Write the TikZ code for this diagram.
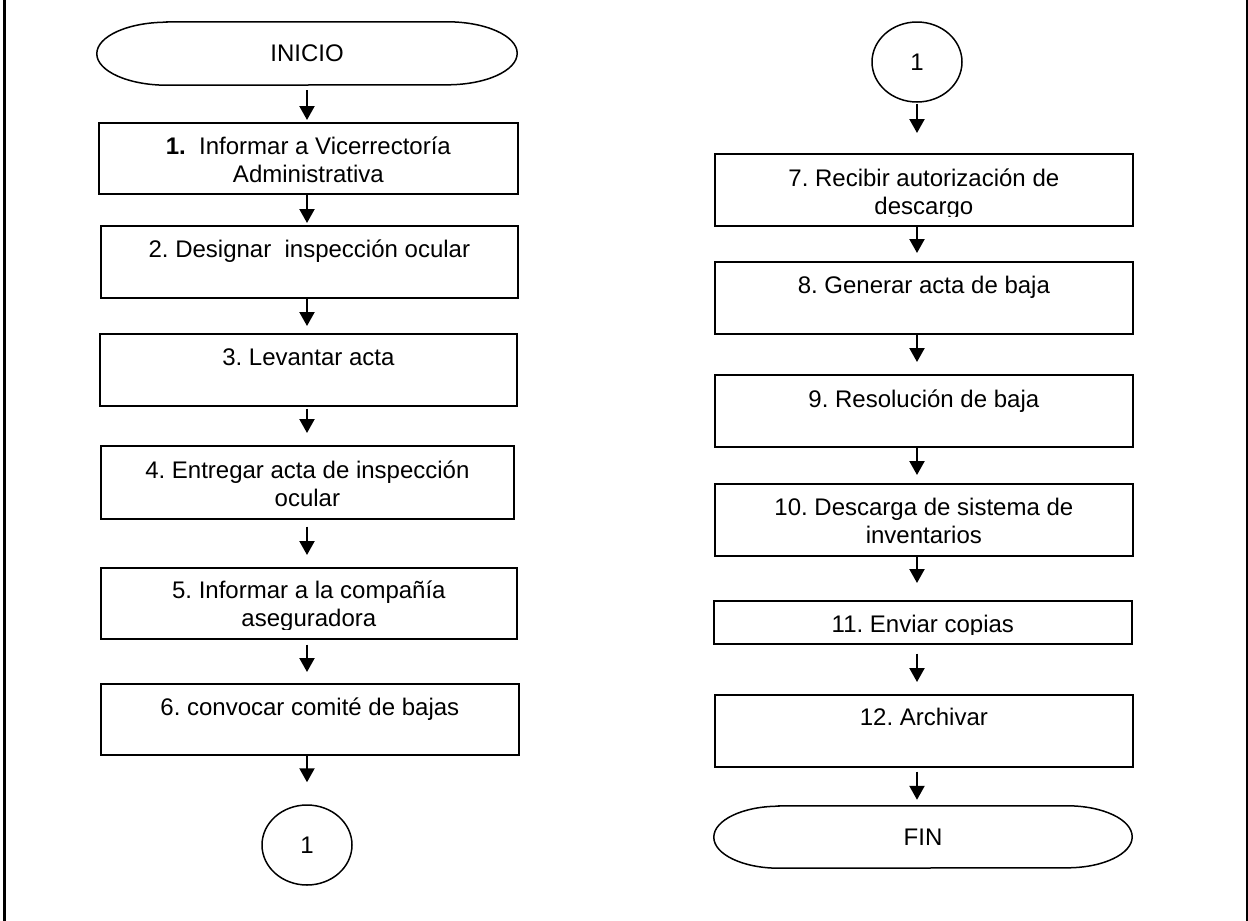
\documentclass[tikz,border=0pt]{standalone}
\usepackage{fontspec}
\setmainfont{Liberation Sans}
\usetikzlibrary{shapes.geometric,arrows.meta,calc}

\begin{document}
\frenchspacing
\begin{tikzpicture}[x=1pt,y=-1pt,
  txt/.style={font=\fontsize{24}{28}\selectfont},
  stepbox/.style={draw, line width=1.7pt, inner sep=0pt, anchor=north west},
  steptext/.style={txt, align=center, anchor=base, inner sep=0pt},
  term/.style={txt, inner sep=0pt, minimum width=420, minimum height=63},
  outline/.style={line width=1.5pt},
  conn/.style={txt, draw, ellipse, line width=1.5pt, minimum width=90, minimum height=80, inner sep=0pt},
  flow/.style={line width=2.2pt, -{Triangle[width=15pt,length=14pt]}},
  frame/.style={line width=2.6pt}]

\useasboundingbox (0,0) rectangle (1248,921);

% side rules of the sheet
\draw[frame] (4.7,0) -- (4.7,921);
\draw[frame] (1247,0) -- (1247,921);

% ---------- left column ----------
\node[term] (ini) at (307,53.5) {INICIO};
\draw[outline] ([xshift=70pt]ini.north west) -- ([xshift=-70pt]ini.north east)
  arc[start angle=90, end angle=-90, x radius=70pt, y radius=31.5pt]
  -- ([xshift=70pt]ini.south west)
  arc[start angle=270, end angle=90, x radius=70pt, y radius=31.5pt] -- cycle;

\node[stepbox, minimum width=419, minimum height=71] (b1) at (98,122) {};
\node[stepbox, minimum width=417, minimum height=72] (b2) at (100,225) {};
\node[stepbox, minimum width=417, minimum height=72] (b3) at (99,333) {};
\node[stepbox, minimum width=413, minimum height=73] (b4) at (100,445) {};
\node[stepbox, minimum width=416, minimum height=71] (b5) at (100,567) {};
\node[stepbox, minimum width=418, minimum height=71] (b6) at (100,683) {};
\node[conn] (c1) at (307,845) {1};

% ---------- right column ----------
\node[conn] (c2) at (917,62) {1};
\node[stepbox, minimum width=418, minimum height=72] (b7) at (714,153) {};
\node[stepbox, minimum width=418, minimum height=72] (b8) at (714,261) {};
\node[stepbox, minimum width=418, minimum height=72] (b9) at (714,374) {};
\node[stepbox, minimum width=418, minimum height=72] (b10) at (714,483) {};
\node[stepbox, minimum width=418, minimum height=43] (b11) at (713,600) {};
\node[stepbox, minimum width=418, minimum height=72] (b12) at (714,694) {};

\node[term, minimum width=418, minimum height=62] (fin) at (923,837) {FIN};
\draw[outline] ([xshift=65pt]fin.north west) -- ([xshift=-65pt]fin.north east)
  arc[start angle=90, end angle=-90, x radius=65pt, y radius=31pt]
  -- ([xshift=65pt]fin.south west)
  arc[start angle=270, end angle=90, x radius=65pt, y radius=31pt] -- cycle;

% ---------- step labels, kept inside the text area of each box ----------
% \d is the depth of the last baseline below the box top
\foreach \b/\d/\t in {
  b1/60/{{\bfseries 1.}\ \ Informar a Vicerrectoría\\Administrativa},
  b2/32/{2. Designar\ \ inspección ocular},
  b3/32/{3. Levantar acta},
  b4/61/{4. Entregar acta de inspección\\ocular},
  b5/59/{5. Informar a la compañía\\aseguradora},
  b6/32/{6. convocar comité de bajas},
  b7/61/{7. Recibir autorización de\\descargo},
  b8/32/{8. Generar acta de baja},
  b9/33/{9. Resolución de baja},
  b10/60/{10. Descarga de sistema de\\inventarios},
  b11/32/{11. Enviar copias},
  b12/31/{12. Archivar}}{
  \begin{scope}
    \clip (\b.north west) rectangle ($(\b.south east)+(0,-10)$);
    \node[steptext] (\b-label) at ($(\b.north)+(0,\d)$) {\t};
  \end{scope}
}

% ---------- connectors ----------
\draw[flow, shorten <=5pt, shorten >=2pt] (c1 |- ini.south) -- (c1 |- b1.north);
\draw[flow, shorten >=2pt] (c1 |- b1.south) -- (c1 |- b2.north);
\draw[flow, shorten >=7pt] (c1 |- b2.south) -- (c1 |- b3.north);
\draw[flow, shorten <=2pt, shorten >=12pt] (c1 |- b3.south) -- (c1 |- b4.north);
\draw[flow, shorten <=7pt, shorten >=12pt] (c1 |- b4.south) -- (c1 |- b5.north);
\draw[flow, shorten <=5pt, shorten >=11pt] (c1 |- b5.south) -- (c1 |- b6.north);
\draw[flow, shorten >=22pt] (c1 |- b6.south) -- (c1.north);

\draw[flow, shorten <=1pt, shorten >=20pt] (c2.south) -- (c2 |- b7.north);
\draw[flow, shorten >=8pt] (c2 |- b7.south) -- (c2 |- b8.north);
\draw[flow, shorten >=12pt] (c2 |- b8.south) -- (c2 |- b9.north);
\draw[flow, shorten >=8pt] (c2 |- b9.south) -- (c2 |- b10.north);
\draw[flow, shorten >=17pt] (c2 |- b10.south) -- (c2 |- b11.north);
\draw[flow, shorten <=9pt, shorten >=12pt] (c2 |- b11.south) -- (c2 |- b12.north);
\draw[flow, shorten <=4pt, shorten >=6pt] (c2 |- b12.south) -- (c2 |- fin.north);

\end{tikzpicture}
\end{document}
